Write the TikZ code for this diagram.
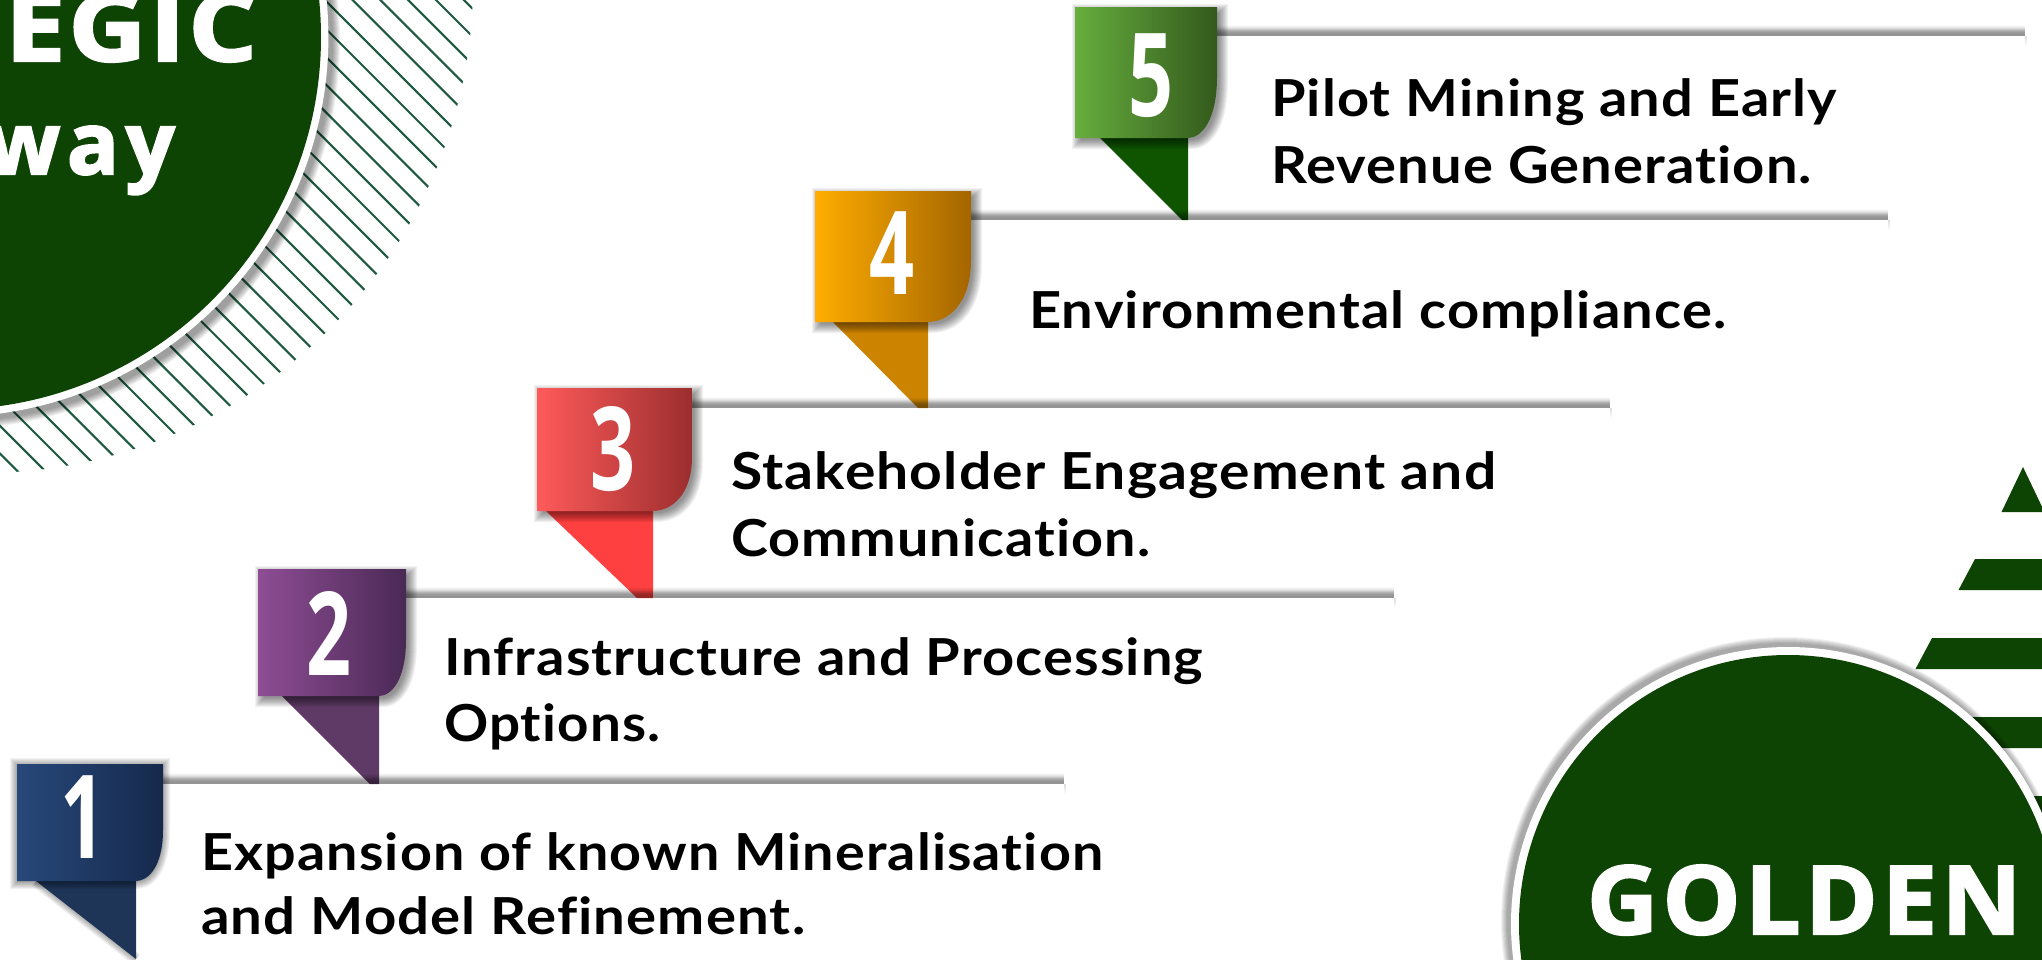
\documentclass[tikz,border=0pt]{standalone}
\usepackage{fontspec}
\usepackage{graphicx}
\setmainfont{Liberation Sans}
\newfontfamily\lblfam{Lato}[BoldFont={Lato Bold},LetterSpace=2,Ligatures=NoCommon]
\newfontfamily\capsfam{Open Sans}[UprightFont={* Bold},FakeBold=2.5]
\newfontfamily\digitfam{Open Sans}
\newsavebox\fitbox
\newcommand\fitto[2]{\sbox\fitbox{#2}\pgfmathsetmacro\fitr{#1/\the\wd\fitbox}\scalebox{\fitr}[1]{#2}}
\definecolor{deepgreen}{HTML}{0D4303}
\definecolor{hatchgreen}{HTML}{1D5A40}
\definecolor{aL}{HTML}{27487A}\definecolor{aR}{HTML}{16294C}\definecolor{aT}{HTML}{1F3557}
\definecolor{bL}{HTML}{8E4D94}\definecolor{bR}{HTML}{4A2955}\definecolor{bT}{HTML}{5F3A66}
\definecolor{cL}{HTML}{FF5A5A}\definecolor{cR}{HTML}{9C2E2E}\definecolor{cT}{HTML}{FF4040}
\definecolor{dL}{HTML}{FFAD00}\definecolor{dR}{HTML}{A46500}\definecolor{dT}{HTML}{CC8400}
\definecolor{eL}{HTML}{66AE3D}\definecolor{eR}{HTML}{33591C}\definecolor{eT}{HTML}{0F5500}
\tikzset{
  lbl/.style={anchor=base west,inner sep=0pt,text=black,font=\lblfam\bfseries\fontsize{51}{60}\selectfont},
  capsxl/.style={inner sep=0pt,text=white,font=\capsfam\fontsize{95}{100}\selectfont},
  capsm/.style={inner sep=0pt,text=white,font=\capsfam\fontsize{86}{100}\selectfont},
  digit/.style={anchor=base,inner sep=0pt,text=white,font=\digitfam\bfseries\fontsize{116}{120}\selectfont},
  bar/.style={fill=deepgreen,draw=none},
  hatchline/.style={draw=hatchgreen,line width=2.1pt},
  softshadow/.style={fill=black,opacity=.055,draw=none}
}
\begin{document}
\begin{tikzpicture}[x=1pt,y=-1pt]
\useasboundingbox (0,0) rectangle (2042,959);
\clip (0,0) rectangle (2042,959);
\fill[white] (0,0) rectangle (2042,959);
% --- top-left disc with hatching
\begin{scope}
  \clip (-18pt,18pt) circle (491pt);
  \foreach \k in {-19,...,18}{
    \pgfmathsetmacro\d{19+27.8*\k}
    \draw[hatchline] (\d-100,-100) -- (\d+700,700);
  }
\end{scope}
\foreach \i in {1,...,8}{
  \pgfmathsetmacro\rr{380+\i}
  \fill[softshadow] (-48pt,-41pt) circle (\rr pt);
}
\fill[white] (-51.6pt,-37pt) circle (380pt);
\fill[deepgreen] (-51.6pt,-37pt) circle (372.6pt);
\node[capsxl,anchor=base west] (egic) at (5,61) {\fitto{252}{\addfontfeature{LetterSpace=3}EGIC}};
\node[capsm,anchor=base east] (way) at (175,174) {\addfontfeature{LetterSpace=8}way};
% --- stacked triangle at the right
\fill[bar] (2023,467) -- (2001.5,512) -- (2044.5,512) -- cycle;
\fill[bar] (1975,559) -- (1958.5,590) -- (2050,590) -- (2050,559) -- cycle;
\fill[bar] (1932,638) -- (1915.5,669) -- (2050,669) -- (2050,638) -- cycle;
\fill[bar] (1894,717) -- (1877.5,748) -- (2050,748) -- (2050,717) -- cycle;
\fill[bar] (1855,796) -- (1838.5,827) -- (2050,827) -- (2050,796) -- cycle;
% --- bottom-right disc
\foreach \i in {1,...,7}{
  \pgfmathsetmacro\rr{277+\i}
  \fill[softshadow] (1785pt,-921pt) circle (\rr pt);
}
\fill[white] (1788pt,-924pt) circle (277pt);
\fill[deepgreen] (1788pt,-924pt) circle (269pt);
\node[capsxl,anchor=base west] (golden) at (1587,934) {\fitto{434}{\addfontfeature{LetterSpace=5}GOLDEN}};
% --- shadow along the diagonal of the lowest tail
\foreach \i in {1,...,4}{
  \pgfmathsetmacro\lw{3*\i}
  \draw[black,opacity=.08,line width=\lw pt] (36,881) -- (136,959);
}
% --- shelves
\foreach \xb/\xe/\ys in {1217/2025/36, 971/1888/220, 692/1610/408, 406/1394/598, 163/1064/784}{
  \foreach \j/\o in {0/.42,1/.42,2/.41,3/.39,4/.35,5/.29,6/.22,7/.15,8/.09,9/.05,10/.02}{
    \fill[black,opacity=\o] (\xb,\ys-\j-1) rectangle (\xe,\ys-\j);
  }
  \shade[top color=black!14,bottom color=white,draw=none] (\xe,\ys) rectangle (\xe+1.5,\ys+10);
}
% --- steps, top to bottom
\foreach \xa/\xb/\ya/\yb/\xc/\yc/\xt/\xtip/\ytail/\cl/\cr/\ct/\dg/\xd/\yd/\ox/\oy in {
  1075/1217/7/138/1188/77/1100/1182/220/eL/eR/eT/5/1151/116/4/4,
  815/971/191/322/928/260/833/918/408/dL/dR/dT/4/892/294/4/4,
  537/692/388/511/653/457/546/637/598/cL/cR/cT/3/613/490/4/4,
  258/406/569/696/379/640/282/370/784/bL/bR/bT/2/329/675/4/4,
  17/163/764/881/136/830/36/136/959/aL/aR/aT/1/83/858/0/1}{
  % ribbon tail
  \fill[\ct] (\xt,\yb) -- (\xc,\yb) -- (\xc,\ytail) -- (\xtip,\ytail) -- cycle;
  % darkening where the shelf below crosses the tip
  \ifnum\dg>1
    \begin{scope}
      \clip (\xt,\yb) -- (\xc,\yb) -- (\xc,\ytail) -- (\xtip,\ytail) -- cycle;
      \foreach \j/\o in {0/.42,1/.42,2/.41,3/.39,4/.35,5/.29,6/.22,7/.15,8/.09,9/.05}{
        \fill[black,opacity=\o] (\xt,\ytail-\j-1) rectangle (\xc,\ytail-\j);
      }
    \end{scope}
  \fi
  % badge shadow: inflated copies of the badge outline
  \pgfmathsetmacro\cay{\yc+0.72*(\yb-\yc)}
  \pgfmathsetmacro\cbx{\xc+0.45*(\xb-\xc)}
  \begin{scope}[shift={(\ox pt,-\oy pt)}]
    \foreach \e in {-2,-1,0,1,2,3,4,5,6,7}{
      \fill[black,opacity=.05]
        (\xa-\e,\ya-\e) -- (\xb+\e,\ya-\e) -- (\xb+\e,\yc)
        .. controls (\xb+\e,\cay+0.7*\e) and (\cbx+0.7*\e,\yb+\e) .. (\xc,\yb+\e)
        -- (\xa-\e,\yb+\e) -- cycle;
    }
  \end{scope}
  % badge
  \shade[left color=\cl,right color=\cr,draw=none]
    (\xa,\ya) -- (\xb,\ya) -- (\xb,\yc) .. controls (\xb,\cay) and (\cbx,\yb) .. (\xc,\yb) -- (\xa,\yb) -- cycle;
  \node[digit] (num\dg) at (\xd,\yd) {\scalebox{.68}[1]{\textbf{\dg}}};
}
% --- step labels
\node[lbl] (l5a) at (1271,116) {\fitto{566}{Pilot Mining and Early}};
\node[lbl] (l5b) at (1271,183) {\fitto{541}{Revenue Generation.}};
\node[lbl] (l4a) at (1029,328) {\fitto{697}{Environmental compliance.}};
\node[lbl] (l3a) at (731,489) {\fitto{765}{Stakeholder Engagement and}};
\node[lbl] (l3b) at (731,556) {\fitto{419}{Communication.}};
\node[lbl] (l2a) at (444,675) {\fitto{759}{Infrastructure and Processing}};
\node[lbl] (l2b) at (444,741) {\fitto{216}{Options.}};
\node[lbl] (l1a) at (201,870) {\fitto{902}{Expansion of known Mineralisation}};
\node[lbl] (l1b) at (201,934) {\fitto{604}{and Model Refinement.}};
\end{tikzpicture}
\end{document}
